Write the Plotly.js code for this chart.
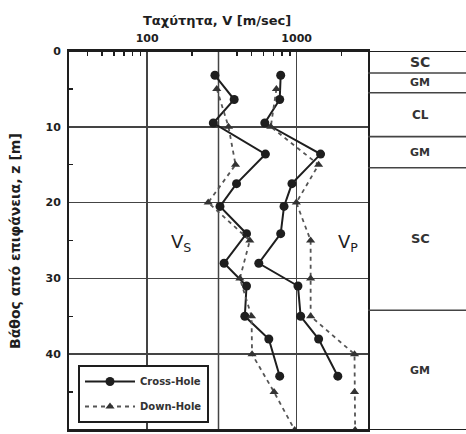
<!DOCTYPE html>
<html>
<head>
<meta charset="utf-8">
<script src="https://cdn.plot.ly/plotly-3.0.1.min.js"></script>
<style>html,body{margin:0;padding:0;background:#fff;}#chart{width:466px;height:434px;}</style>
</head>
<body>
<div id="chart"></div>
<script>
// Cross-hole measurements
var chDepth = [3.2, 6.4, 9.5, 13.6, 17.5, 20.5, 24.1, 28.0, 31.0, 35.0, 38.0, 42.9];
var vsCross = [284, 382, 277, 618, 396, 307, 462, 327, 462, 450, 651, 770];
var vpCross = [782, 770, 612, 1445, 930, 823, 782, 558, 1020, 1063, 1402, 1885];
// Down-hole measurements
var dhDepth = [5, 10, 15, 20, 25, 30, 35, 40, 45, 50];
var vsDown = [292, 350, 390, 256, 486, 417, 499, 503, 706, 970];
var vpDown = [732, 671, 1402, 995, 1240, 1240, 1240, 2437, 2437, 2460];
// Soil profile
var layerTops = [0, 2.9, 5.5, 11.3, 15.4, 34.2];
var layerBottoms = [2.9, 5.5, 11.3, 15.4, 34.2, 50];
var layerNames = ['SC', 'GM', 'CL', 'GM', 'SC', 'GM'];
var layerFont = [14, 11, 12, 11, 13, 11];
// Axis ticks
var xTickVals = [100, 1000];
var xTickText = ['100', '1000'];
var xExtraGrid = [300];
var xMinor = [40, 50, 60, 70, 80, 90, 200, 400, 500, 600, 700, 800, 900, 2000];
var yTickVals = [0, 10, 20, 30, 40, 50];
var yMinor = [5, 15, 25, 35, 45];

var FONT = 'DejaVu Sans, Liberation Sans, Arial, sans-serif';
var INK = '#1e1e1e';
var dom = 299 / 397;

var chLine = {color: INK, width: 2};
var chMarker = {symbol: 'circle', size: 9, color: INK};
var dhLine = {color: '#555', width: 1.8, dash: '4px,4px'};
var dhMarker = {symbol: 'triangle-up', size: 8, color: '#333'};

var traces = [
  {x: vsCross, y: chDepth, mode: 'lines+markers', name: 'Cross-Hole', line: chLine, marker: chMarker, legendgroup: 'ch'},
  {x: vpCross, y: chDepth, mode: 'lines+markers', name: 'Cross-Hole', line: chLine, marker: chMarker, legendgroup: 'ch', showlegend: false},
  {x: vsDown, y: dhDepth, mode: 'lines+markers', name: 'Down-Hole', line: dhLine, marker: dhMarker, legendgroup: 'dh'},
  {x: vpDown, y: dhDepth, mode: 'lines+markers', name: 'Down-Hole', line: dhLine, marker: dhMarker, legendgroup: 'dh', showlegend: false}
];

var shapes = [
  {type: 'line', xref: 'paper', yref: 'y', x0: 0, x1: 1, y0: 0, y1: 0, line: {color: INK, width: 2}},
  {type: 'line', xref: 'paper', yref: 'y', x0: 0, x1: 1, y0: 50, y1: 50, line: {color: INK, width: 2}}
];
xExtraGrid.forEach(function (v) {
  shapes.push({type: 'line', xref: 'x', yref: 'y', x0: v, x1: v, y0: 0, y1: 50, layer: 'below', line: {color: '#444', width: 1.5}});
});
var annotations = [];
for (var i = 0; i < layerNames.length; i++) {
  if (layerTops[i] > 0) {
    shapes.push({type: 'line', xref: 'paper', yref: 'y', x0: dom, x1: 1, y0: layerTops[i], y1: layerTops[i], line: {color: '#444', width: 1.6}});
  }
  annotations.push({xref: 'paper', yref: 'y', x: (420 - 69) / 397, y: (layerTops[i] + layerBottoms[i]) / 2,
    xanchor: 'center', yanchor: 'middle',
    text: layerNames[i], showarrow: false, font: {family: FONT, size: layerFont[i], weight: 'bold', color: '#333'}});
}
annotations.push({xref: 'paper', yref: 'paper', x: (217 - 69) / 397, y: 1 + (51 - 21) / 379, xanchor: 'center', yanchor: 'middle',
  text: 'Ταχύτητα, V [m/sec]', showarrow: false,
  font: {family: FONT, size: 13, weight: 'bold', color: INK}});
annotations.push({xref: 'paper', yref: 'paper', x: (15 - 69) / 397, y: 1 - (241 - 51) / 379, xanchor: 'center', yanchor: 'middle',
  text: 'Βάθος από επιφάνεια, z [m]', showarrow: false, textangle: -90,
  font: {family: FONT, size: 14, weight: 'bold', color: INK}});
annotations.push({xref: 'x', yref: 'y', x: Math.log10(168), y: 25.3, xanchor: 'center', yanchor: 'middle',
  text: 'V<sub>S</sub>', showarrow: false, font: {family: FONT, size: 18, color: INK}});
annotations.push({xref: 'x', yref: 'y', x: Math.log10(2200), y: 25.3, xanchor: 'center', yanchor: 'middle',
  text: 'V<sub>P</sub>', showarrow: false, font: {family: FONT, size: 18, color: INK}});

var layout = {
  width: 466, height: 434,
  margin: {l: 69, r: 0, t: 51, b: 4},
  paper_bgcolor: '#fff', plot_bgcolor: '#fff',
  font: {family: FONT, color: INK},
  xaxis: {
    type: 'log', side: 'top', domain: [0, dom],
    range: [Math.log10(30), Math.log10(3000)],
    tickmode: 'array', tickvals: xTickVals, ticktext: xTickText,
    ticks: '', showgrid: true, gridcolor: '#444', gridwidth: 1.5,
    showline: true, linecolor: INK, linewidth: 2, mirror: true,
    tickfont: {family: FONT, size: 11, weight: 'bold', color: INK},
    ticklabelstandoff: 3,
    minor: {tickmode: 'array', tickvals: xMinor, ticks: 'inside', ticklen: 5, tickwidth: 1.5, tickcolor: INK, showgrid: false},
    zeroline: false, fixedrange: true
  },
  yaxis: {
    range: [50, 0], tickmode: 'array', tickvals: yTickVals,
    ticks: '', showgrid: true, gridcolor: '#444', gridwidth: 1.5,
    showline: true, linecolor: INK, linewidth: 2, mirror: true,
    tickfont: {family: FONT, size: 11, weight: 'bold', color: INK},
    ticklabelstandoff: 4,
    minor: {tickmode: 'array', tickvals: yMinor, ticks: 'inside', ticklen: 4, tickwidth: 1.5, tickcolor: INK, showgrid: false},
    zeroline: false, fixedrange: true
  },
  showlegend: true,
  legend: {
    x: 9 / 397, y: 1 - (365 - 51) / 379, xanchor: 'left', yanchor: 'top',
    bgcolor: '#fff', bordercolor: INK, borderwidth: 2,
    font: {family: FONT, size: 10, weight: 'bold', color: '#333'},
    itemwidth: 50, tracegroupgap: 6
  },
  shapes: shapes,
  annotations: annotations
};

Plotly.newPlot('chart', traces, layout, {displayModeBar: false, staticPlot: true});
</script>
</body>
</html>
